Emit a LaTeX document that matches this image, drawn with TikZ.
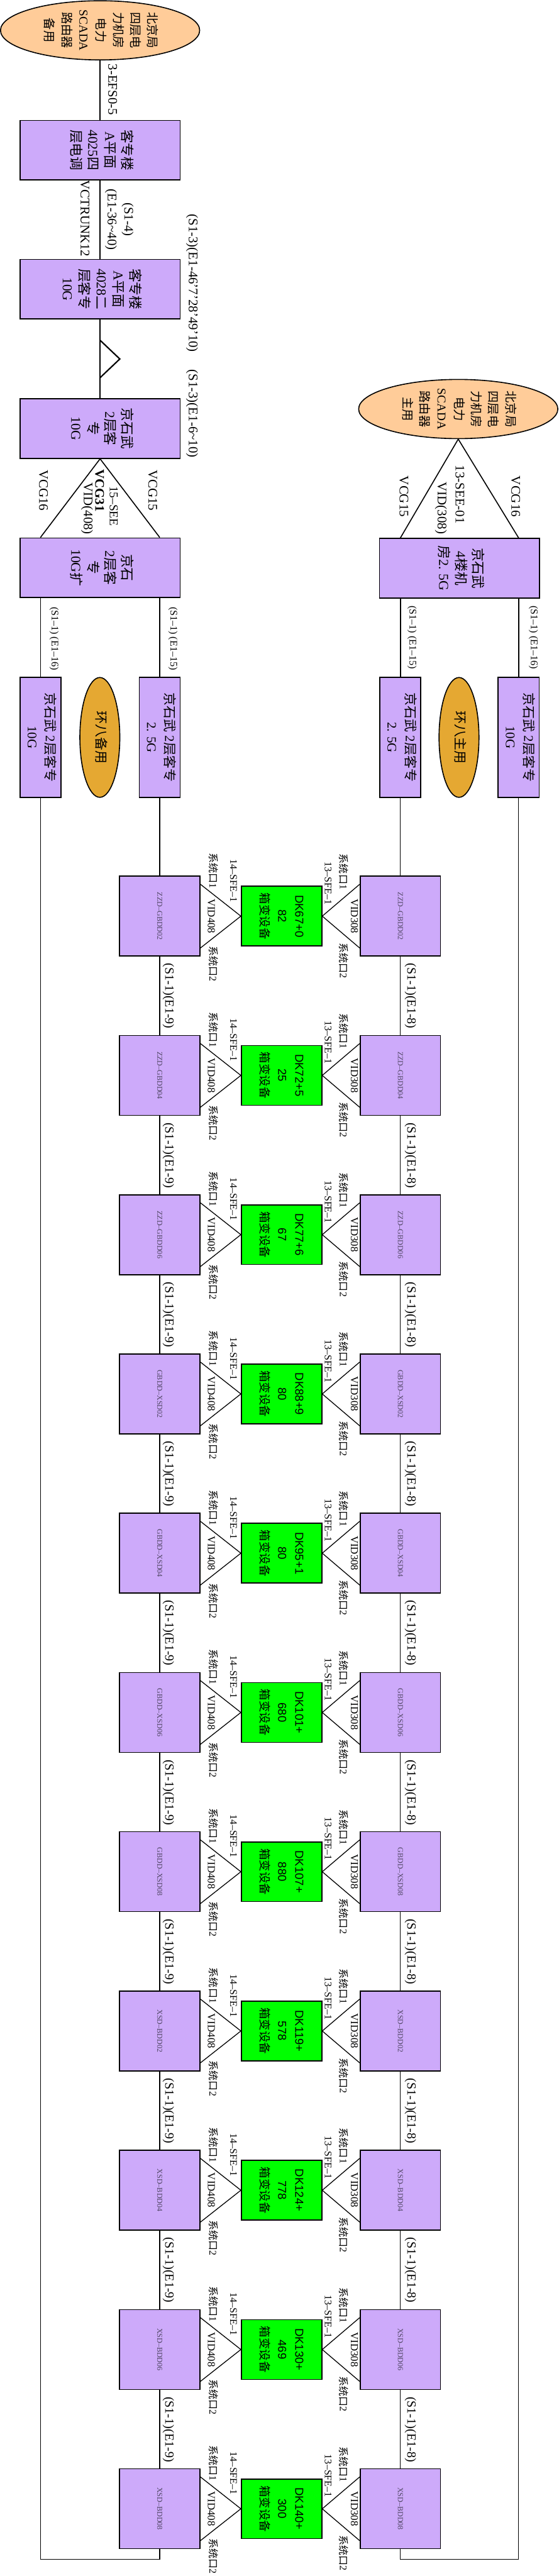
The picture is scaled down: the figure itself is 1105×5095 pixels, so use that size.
\documentclass[tikz,border=0pt]{standalone}
\usepackage{fontspec}
\setmainfont{Liberation Serif}
\newfontfamily\cjkf{Noto Sans CJK SC}
\newfontfamily\sansf{Liberation Sans}
\usepackage{graphicx}
\usetikzlibrary{shapes.geometric}
\definecolor{purp}{RGB}{205,170,250}
\definecolor{peach}{RGB}{255,204,153}
\definecolor{gold}{RGB}{229,168,50}
\definecolor{grn}{RGB}{0,255,0}
\definecolor{boxtxt}{RGB}{80,70,100}
\newcommand\zh[1]{{\cjkf #1}}
\newcommand\rottext[1]{\rotatebox{-90}{\begin{tabular}{@{}c@{}}#1\end{tabular}}}
\begin{document}
\begin{tikzpicture}[x=0.5pt,y=-0.5pt,
  pbox/.style={draw,line width=1pt,fill=purp,inner sep=0pt},
  bigbox/.style={pbox,minimum width=158.5pt,minimum height=59pt,font=\fontsize{13.5}{16.75}\selectfont},
  tallbox/.style={pbox,minimum width=40.5pt,minimum height=118.5pt,font=\fontsize{13}{18}\selectfont},
  rbox/.style={pbox,minimum width=79.5pt,minimum height=79pt,font=\fontsize{7.5}{9}\selectfont,text=boxtxt},
  gbox/.style={draw,line width=1pt,fill=grn,inner sep=0pt,minimum width=79.5pt,minimum height=59pt,font=\fontsize{11.5}{17}\selectfont},
  topell/.style={ellipse,draw,line width=1pt,fill=peach,inner sep=0pt,minimum width=197pt,minimum height=58.5pt,font=\fontsize{12}{17}\selectfont},
  ringell/.style={ellipse,draw,line width=1pt,fill=gold,inner sep=0pt,minimum width=39.5pt,minimum height=118.5pt,font=\fontsize{13}{16}\selectfont},
  lab/.style={rotate=-90,inner sep=0pt,align=center,font=\fontsize{13}{16.5}\selectfont},
  mlab/.style={lab,font=\fontsize{12.5}{15}\selectfont},
  slab/.style={lab,font=\fontsize{10}{12}\selectfont},
  vlab/.style={lab,font=\fontsize{10.5}{12}\selectfont},
  conn/.style={line width=1.35pt},
  mconn/.style={line width=1pt},
  tconn/.style={line width=0.8pt}]
\useasboundingbox (0,0) rectangle (1105,5095);

% ---------- left top chain ----------
\node[topell] (E1) at (198,60) {\rottext{\zh{北京局}\\\zh{四层电}\\\zh{力机房}\\\zh{电力}\\SCADA\\\zh{路由器}\\\zh{备用}}};
\node[bigbox] (B1) at (198,297) {\rottext{\zh{客专楼}\\A\zh{平面}\\4025\zh{四}\\\zh{层电调}}};
\draw[conn] (E1.south) -- (B1.north);
\node[lab] (l1) at (223,177) {3-EFS0-5};

\node[bigbox] (B2) at (198,572) {\rottext{\zh{客专楼}\\A\zh{平面}\\4028\zh{二}\\\zh{层客专}\\10G}};
\draw[conn] (B1.south) -- (B2.north);
\node[lab] (l2) at (236,434) {(S1-4)\\(E1-36\textasciitilde40)};
\node[lab] (l3) at (168,432) {VCTRUNK12};
\node[lab] (l4) at (380,560) {(S1-3)(E1-46'7'28'49'10)};

\node[bigbox] (B3) at (198,847.5) {\rottext{\zh{京石武}\\2\zh{层客}\\\zh{专}\\10G}};
\draw[conn] (B2.south) -- (B3.north);
\coordinate (t1) at (198,673);
\coordinate (t2) at (237,710);
\coordinate (t3) at (198,747);
\draw[conn] (t1) -- (t2) -- (t3);
\node[lab] (l5) at (380,818) {(S1-3)(E1-6\textasciitilde10)};

\node[bigbox] (B4) at (198,1123) {\rottext{\zh{京石}\\2\zh{层客}\\\zh{专}\\10G\zh{扩}}};
\draw[mconn] (B3.south) -- ([xshift=-59pt]B4.north);
\draw[mconn] (B3.south) -- ([xshift=59pt]B4.north);
\node[lab] (l6) at (302,970) {VCG15};
\node[lab] (l7) at (86,970) {VCG16};
\node[lab,font=\fontsize{12}{14}\selectfont] (l8) at (225,1001) {15–SEE};
\node[lab,font=\fontsize{13}{14}\selectfont\bfseries] (l9) at (197,970) {VCG31};
\node[lab] (l10) at (172,1006) {VID(408)};

\node[tallbox] (L10G) at (80,1458.5) {\rottext{\zh{京石武}\ 2\zh{层客专}\\10G}};
\node[ringell] (ER8B) at (197.5,1458.5) {\rottext{\zh{环八备用}}};
\node[tallbox] (L25) at (316,1458.5) {\rottext{\zh{京石武}\ 2\zh{层客专}\\2. 5G}};
\draw[mconn] ([xshift=-59pt]B4.south) -- (L10G.north);
\draw[mconn] ([xshift=59pt]B4.south) -- (L25.north);
\node[slab] (l11) at (107,1263) {(S1–1) (E1–16)};
\node[slab] (l12) at (342,1263) {(S1–1) (E1–15)};

% ---------- right top chain ----------
\node[topell] (E2) at (906.5,809) {\rottext{\zh{北京局}\\\zh{四层电}\\\zh{力机房}\\\zh{电力}\\SCADA\\\zh{路由器}\\\zh{主用}}};
\node[bigbox] (RT) at (909,1124) {\rottext{\zh{京石武}\\4\zh{楼机}\\\zh{房}2. 5G}};
\draw[mconn] (E2.south) -- ([xshift=-58.5pt]RT.north);
\draw[mconn] (E2.south) -- ([xshift=58.5pt]RT.north);
\node[lab] (r1) at (799,982) {VCG15};
\node[lab] (r2) at (1020,982) {VCG16};
\node[lab] (r3) at (910,978) {13-SEE-01};
\node[lab] (r4) at (872,1005) {VID(308)};

\node[tallbox] (R25) at (792,1458.5) {\rottext{\zh{京石武}\ 2\zh{层客专}\\2. 5G}};
\node[ringell] (ER8M) at (908,1458.5) {\rottext{\zh{环八主用}}};
\node[tallbox] (R10G) at (1026,1458.5) {\rottext{\zh{京石武}\ 2\zh{层客专}\\10G}};
\draw[mconn] ([xshift=-58.5pt]RT.south) -- (R25.north);
\draw[mconn] ([xshift=58.5pt]RT.south) -- (R10G.north);
\node[slab] (r5) at (815,1261) {(S1–1) (E1–15)};
\node[slab] (r6) at (1055,1261) {(S1–1) (E1–16)};

% ---------- ring units ----------
\foreach \i/\nm/\da/\db in {
 1/ZZD–GBDD02/DK67+0/82,
 2/ZZD–GBDD04/DK72+5/25,
 3/ZZD–GBDD06/DK77+6/67,
 4/GBDD–XSD02/DK88+9/80,
 5/GBDD–XSD04/DK95+1/80,
 6/GBDD–XSD06/DK101+/680,
 7/GBDD–XSD08/DK107+/880,
 8/XSD–BDD02/DK119+/578,
 9/XSD–BDD04/DK124+/778,
 10/XSD–BDD06/DK130+/469,
 11/XSD–BDD08/DK140+/300}{
  \pgfmathsetmacro\cy{1812+(\i-1)*315}
  \node[rbox] (L\i) at (316,\cy) {\rotatebox{-90}{\nm}};
  \node[gbox] (G\i) at (557,\cy) {\rottext{{\sansf \da}\\{\sansf \db}\\\zh{箱变设备}}};
  \node[rbox] (R\i) at (792,\cy) {\rotatebox{-90}{\nm}};
  \draw[tconn] ([yshift=31.5pt]L\i.east) -- (G\i.west) -- ([yshift=-31.5pt]L\i.east);
  \draw[tconn] ([yshift=31.5pt]R\i.west) -- (G\i.east) -- ([yshift=-31.5pt]R\i.west);
  \node[slab] (a\i) at (422,{\cy-90}) {\zh{系统口}1};
  \node[slab] (b\i) at (462,{\cy-70}) {14–SFE–1};
  \node[vlab] (c\i) at (418,{\cy}) {VID408};
  \node[slab] (d\i) at (422,{\cy+94}) {\zh{系统口}2};
  \node[slab] (e\i) at (649,{\cy-65}) {13–SFE–1};
  \node[slab] (f\i) at (680,{\cy-88}) {\zh{系统口}1};
  \node[vlab] (g\i) at (701,{\cy}) {VID308};
  \node[slab] (h\i) at (680,{\cy+88}) {\zh{系统口}2};
}
\foreach \i [evaluate=\i as \j using int(\i+1)] in {1,...,10}{
  \pgfmathsetmacro\cy{1812+(\i-1)*315+158}
  \draw[tconn] (L\i.south) -- (L\j.north);
  \draw[tconn] (R\i.south) -- (R\j.north);
  \node[mlab] (m\i) at (333,\cy) {(S1-1)(E1-9)};
  \node[mlab] (n\i) at (812,\cy) {(S1-1)(E1-8)};
}
\draw[tconn] (L25.south) -- (L1.north);
\draw[tconn] (R25.south) -- (R1.north);
\coordinate (bl) at (80,5062);
\coordinate (bl2) at (316,5062);
\coordinate (br) at (1026,5062);
\coordinate (br2) at (792,5062);
\draw[tconn] (L10G.south) -- (bl) -- (bl2) -- (L11.south);
\draw[tconn] (R10G.south) -- (br) -- (br2) -- (R11.south);
\end{tikzpicture}
\end{document}
